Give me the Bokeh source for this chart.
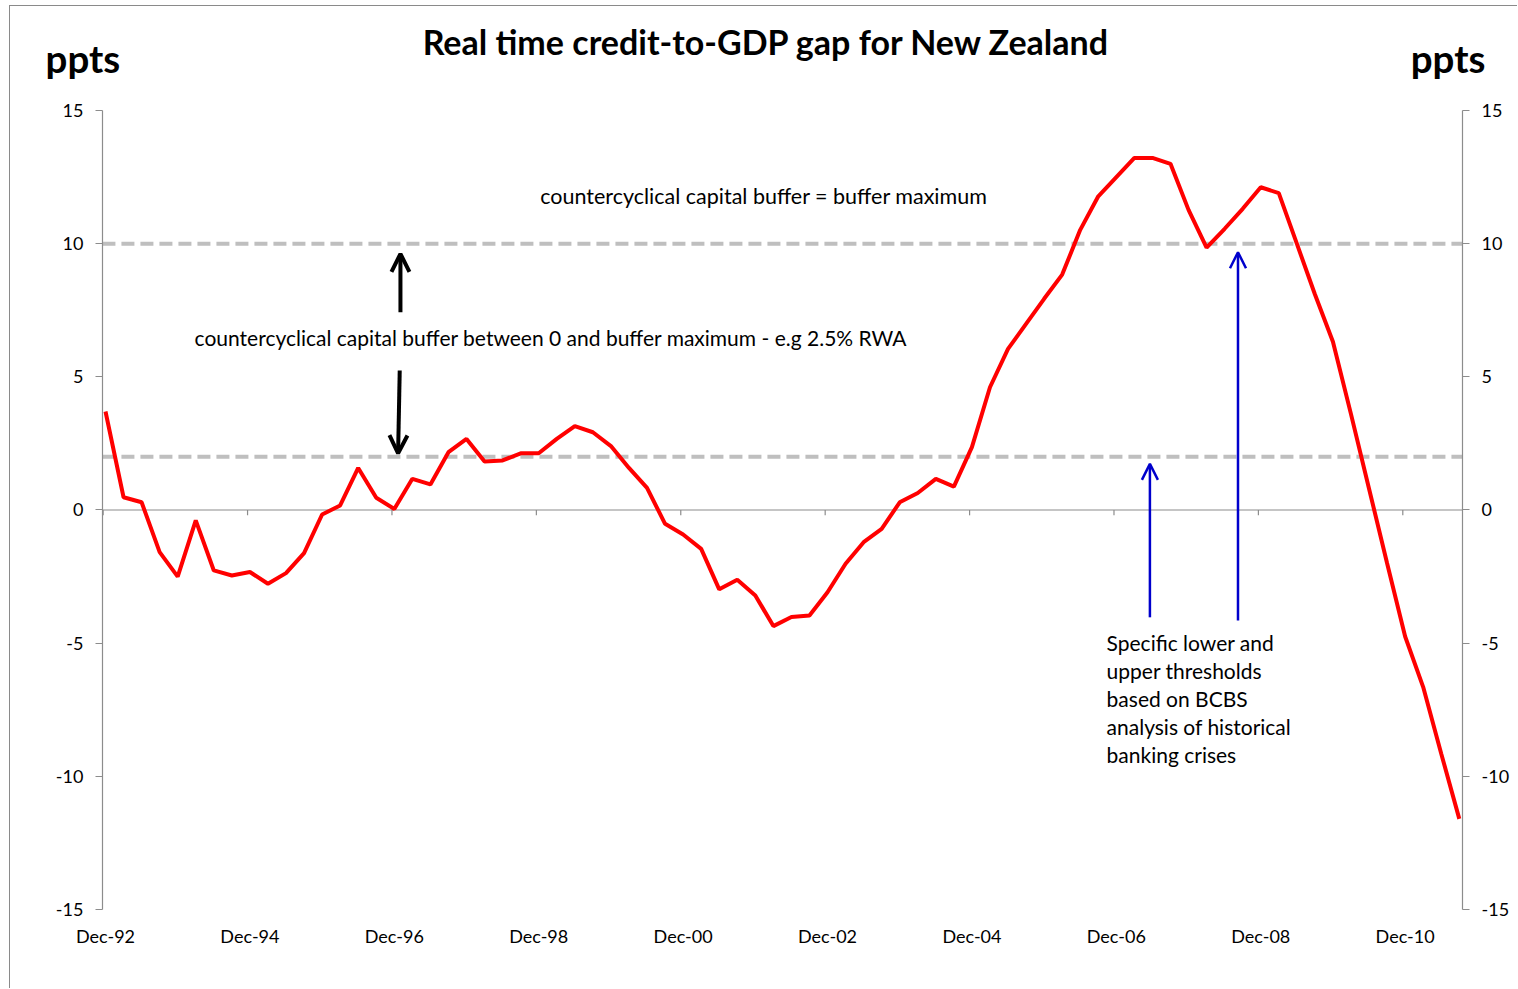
from bokeh.plotting import figure
from bokeh.models import (Range1d, FixedTicker, LinearAxis, Label, Arrow,
                          OpenHead, ColumnDataSource)
from bokeh.embed import file_html
from bokeh.resources import INLINE

# ---------------- data ----------------
quarter_index = list(range(76))  # Dec-92 ... Sep-11, quarterly
credit_gap = [
    3.70, 0.48, 0.29, -1.58, -2.50, -0.39, -2.27, -2.46, -2.33, -2.77,
    -2.37, -1.62, -0.17, 0.17, 1.58, 0.46, 0.04, 1.17, 0.96, 2.17,
    2.67, 1.82, 1.86, 2.13, 2.13, 2.67, 3.15, 2.92, 2.40, 1.58,
    0.83, -0.52, -0.92, -1.46, -2.98, -2.62, -3.21, -4.36, -4.02, -3.96,
    -3.09, -2.02, -1.21, -0.71, 0.29, 0.64, 1.17, 0.88, 2.36, 4.61,
    6.05, 6.99, 7.93, 8.84, 10.52, 11.78, 12.50, 13.22, 13.22, 13.00,
    11.27, 9.85, 10.56, 11.31, 12.12, 11.90, 10.00, 8.10, 6.32, 3.60,
    0.80, -2.00, -4.75, -6.65, -9.15, -11.60,
]
x_tick_positions = [0, 8, 16, 24, 32, 40, 48, 56, 64, 72]
x_tick_labels = ["Dec-92", "Dec-94", "Dec-96", "Dec-98", "Dec-00",
                 "Dec-02", "Dec-04", "Dec-06", "Dec-08", "Dec-10"]
y_ticks = [-15, -10, -5, 0, 5, 10, 15]
y_tick_labels = ["-15", "-10", "-5", "0", "5", "10", "15"]
lower_threshold = 2
upper_threshold = 10

title_text = "Real time credit-to-GDP gap for New Zealand"
unit_text = "ppts"
upper_note = "countercyclical capital buffer = buffer maximum"
middle_note = "countercyclical capital buffer between 0 and buffer maximum - e.g 2.5% RWA"
threshold_note = ["Specific lower and", "upper thresholds", "based on BCBS",
                  "analysis of historical", "banking crises"]

# ---------------- layout constants ----------------
FONT = "Lato"
AXIS_GREY = "#8c8c8c"
X_LO, X_HI = -0.17, 75.18      # extent of the plotting area (data units)
Y_LO, Y_HI = -15, 15

p = figure(width=1508, height=983,
           x_range=Range1d(-5.263, 78.28), y_range=Range1d(-18.006, 18.907),
           toolbar_location=None, output_backend="svg",
           min_border_left=0, min_border_right=0,
           min_border_top=0, min_border_bottom=0)
p.margin = (5, 0, 0, 9)
p.styles = {"border-top": "1px solid #8a8a8a", "border-left": "1px solid #8a8a8a"}
p.outline_line_color = None
p.background_fill_color = "white"
p.border_fill_color = "white"
p.xgrid.visible = False
p.ygrid.visible = False

# x axis: labels only, fixed below the plotting area
xa = p.xaxis[0]
xa.fixed_location = Y_LO
xa.bounds = (X_LO, X_HI)
xa.ticker = FixedTicker(ticks=x_tick_positions)
xa.major_label_overrides = {t: l for t, l in zip(x_tick_positions, x_tick_labels)}
xa.axis_line_color = None
xa.major_tick_line_color = None
xa.minor_tick_line_color = None
xa.major_label_standoff = 10
xa.major_label_text_font = FONT
xa.major_label_text_font_size = "18px"
xa.major_label_text_color = "black"

# y axes (left and right)
ya = p.yaxis[0]
ya.fixed_location = X_LO
right_axis = LinearAxis(fixed_location=X_HI)
p.add_layout(right_axis, "right")
for ax in [ya, right_axis]:
    ax.bounds = (Y_LO, Y_HI)
    ax.ticker = FixedTicker(ticks=y_ticks)
    ax.major_label_overrides = {t: l for t, l in zip(y_ticks, y_tick_labels)}
    ax.axis_line_color = AXIS_GREY
    ax.axis_line_width = 1.2
    ax.major_tick_line_color = AXIS_GREY
    ax.major_tick_line_width = 1.2
    ax.major_tick_in = 0
    ax.major_tick_out = 7
    ax.minor_tick_line_color = None
    ax.major_label_standoff = 12
    ax.major_label_text_font = FONT
    ax.major_label_text_font_size = "18px"
    ax.major_label_text_color = "black"

# zero line (category axis crossing) with its tick marks
p.segment(x0=[X_LO], y0=[0], x1=[X_HI], y1=[0], line_color=AXIS_GREY, line_width=1.2)
tick_src = ColumnDataSource(dict(x=[t - 0.13 for t in x_tick_positions],
                                 y0=[0] * len(x_tick_positions),
                                 y1=[-0.2] * len(x_tick_positions)))
p.segment(x0="x", y0="y0", x1="x", y1="y1", source=tick_src,
          line_color=AXIS_GREY, line_width=1.2)

# threshold lines
thr = [upper_threshold, lower_threshold]
p.segment(x0=[X_LO] * 2, y0=thr, x1=[X_HI] * 2, y1=thr,
          line_color="#bfbfbf", line_width=4, line_dash="13 6")

# series
src = ColumnDataSource(dict(x=quarter_index, y=credit_gap))
p.line("x", "y", source=src, line_color="#ff0000", line_width=4)

# title and unit labels
p.add_layout(Label(x=36.62, y=17.58, text=title_text, text_align="center",
                   text_baseline="alphabetic", text_font=FONT, text_font_style="bold",
                   text_font_size="34px", text_color="black"))
for ux in [-1.25, 74.38]:
    p.add_layout(Label(x=ux, y=16.98, text=unit_text, text_align="center",
                       text_baseline="alphabetic", text_font=FONT, text_font_style="bold",
                       text_font_size="38.5px", text_color="black"))

# annotations
p.add_layout(Label(x=36.48, y=11.80, text=upper_note, text_align="center",
                   text_baseline="middle", text_font=FONT, text_font_size="21.5px",
                   text_color="black"))
p.add_layout(Label(x=24.68, y=6.46, text=middle_note, text_align="center",
                   text_baseline="middle", text_font=FONT, text_font_size="21px",
                   text_color="black"))
for i, line in enumerate(threshold_note):
    p.add_layout(Label(x=55.46, y=-4.97 - 1.052 * i, text=line, text_align="left",
                       text_baseline="middle", text_font=FONT, text_font_size="21px",
                       text_color="black"))

# black arrows
p.add_layout(Arrow(x_start=16.34, y_start=7.43, x_end=16.34, y_end=9.62,
                   line_color="black", line_width=4,
                   end=OpenHead(size=18, line_color="black", line_width=4)))
p.add_layout(Arrow(x_start=16.30, y_start=5.24, x_end=16.21, y_end=2.13,
                   line_color="black", line_width=4,
                   end=OpenHead(size=18, line_color="black", line_width=4)))
# blue arrows
p.add_layout(Arrow(x_start=57.86, y_start=-4.03, x_end=57.86, y_end=1.73,
                   line_color="#0000cc", line_width=2.5,
                   end=OpenHead(size=16, line_color="#0000cc", line_width=2.5)))
p.add_layout(Arrow(x_start=62.74, y_start=-4.15, x_end=62.74, y_end=9.68,
                   line_color="#0000cc", line_width=2.5,
                   end=OpenHead(size=16, line_color="#0000cc", line_width=2.5)))

open("out.html", "w").write(file_html(p, INLINE))
